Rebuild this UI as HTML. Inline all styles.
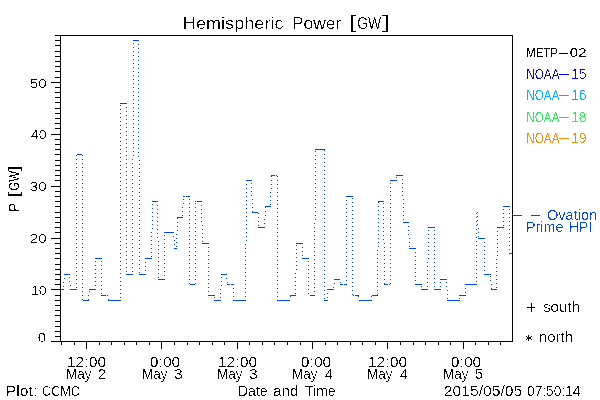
<!DOCTYPE html>
<html><head><meta charset="utf-8"><title>Hemispheric Power [GW]</title><style>
html,body{margin:0;padding:0;background:#fff;width:600px;height:400px;overflow:hidden}
svg{display:block}
text{font-family:"Liberation Sans",sans-serif}
</style></head><body>
<svg width="600" height="400" viewBox="0 0 600 400">
<defs><filter id="crisp" filterUnits="userSpaceOnUse" x="0" y="0" width="600" height="400"><feComponentTransfer><feFuncA type="discrete" tableValues="0 0 0 1 1"/></feComponentTransfer></filter><filter id="crisp2" filterUnits="userSpaceOnUse" x="0" y="0" width="600" height="400"><feComponentTransfer><feFuncA type="discrete" tableValues="0 1"/></feComponentTransfer></filter></defs>
<rect width="600" height="400" fill="#fff"/>
<g shape-rendering="crispEdges">
<path d="M62 289h1v1h-1zM63 282h1v1h-1zM63 286h1v1h-1zM64 274h1v1h-1zM64 278h1v1h-1zM68 274h1v1h-1zM69 277h1v1h-1zM69 281h1v1h-1zM70 285h1v1h-1zM70 289h1v1h-1zM74 289h1v1h-1zM76 155h1v1h-1zM76 159h1v1h-1zM76 163h1v1h-1zM76 167h1v1h-1zM76 171h1v1h-1zM76 175h1v1h-1zM76 179h1v1h-1zM76 183h1v1h-1zM76 187h1v1h-1zM76 191h1v1h-1zM76 195h1v1h-1zM76 199h1v1h-1zM76 203h1v1h-1zM76 207h1v1h-1zM76 211h1v1h-1zM76 215h1v1h-1zM76 219h1v1h-1zM76 223h1v1h-1zM76 227h1v1h-1zM76 231h1v1h-1zM76 235h1v1h-1zM76 239h1v1h-1zM76 243h1v1h-1zM76 247h1v1h-1zM76 251h1v1h-1zM76 255h1v1h-1zM76 259h1v1h-1zM76 263h1v1h-1zM76 267h1v1h-1zM76 271h1v1h-1zM76 275h1v1h-1zM76 279h1v1h-1zM76 283h1v1h-1zM76 287h1v1h-1zM79 154h1v1h-1zM82 155h1v1h-1zM82 159h1v1h-1zM82 163h1v1h-1zM82 167h1v1h-1zM82 171h1v1h-1zM82 175h1v1h-1zM82 179h1v1h-1zM82 183h1v1h-1zM82 187h1v1h-1zM82 191h1v1h-1zM82 195h1v1h-1zM82 199h1v1h-1zM82 203h1v1h-1zM82 207h1v1h-1zM82 211h1v1h-1zM82 215h1v1h-1zM82 219h1v1h-1zM82 223h1v1h-1zM82 227h1v1h-1zM82 231h1v1h-1zM82 235h1v1h-1zM82 239h1v1h-1zM82 243h1v1h-1zM82 247h1v1h-1zM82 251h1v1h-1zM82 255h1v1h-1zM82 259h1v1h-1zM82 263h1v1h-1zM82 267h1v1h-1zM82 271h1v1h-1zM82 275h1v1h-1zM82 279h1v1h-1zM82 283h1v1h-1zM82 287h1v1h-1zM82 291h1v1h-1zM82 295h1v1h-1zM82 299h1v1h-1zM85 300h1v1h-1zM88 295h1v1h-1zM88 299h1v1h-1zM89 291h1v1h-1zM91 289h1v1h-1zM95 261h1v1h-1zM95 265h1v1h-1zM95 269h1v1h-1zM95 273h1v1h-1zM95 277h1v1h-1zM95 281h1v1h-1zM95 285h1v1h-1zM95 289h1v1h-1zM96 258h1v1h-1zM100 258h1v1h-1zM101 261h1v1h-1zM101 265h1v1h-1zM101 269h1v1h-1zM101 273h1v1h-1zM101 277h1v1h-1zM101 281h1v1h-1zM101 285h1v1h-1zM101 289h1v1h-1zM101 293h1v1h-1zM103 295h1v1h-1zM107 295h1v1h-1zM108 299h1v1h-1zM111 300h1v1h-1zM115 300h1v1h-1zM119 300h1v1h-1zM120 105h1v1h-1zM120 109h1v1h-1zM120 113h1v1h-1zM120 117h1v1h-1zM120 121h1v1h-1zM120 125h1v1h-1zM120 129h1v1h-1zM120 133h1v1h-1zM120 137h1v1h-1zM120 141h1v1h-1zM120 145h1v1h-1zM120 149h1v1h-1zM120 153h1v1h-1zM120 157h1v1h-1zM120 161h1v1h-1zM120 165h1v1h-1zM120 169h1v1h-1zM120 173h1v1h-1zM120 177h1v1h-1zM120 181h1v1h-1zM120 185h1v1h-1zM120 189h1v1h-1zM120 193h1v1h-1zM120 197h1v1h-1zM120 201h1v1h-1zM120 205h1v1h-1zM120 209h1v1h-1zM120 213h1v1h-1zM120 217h1v1h-1zM120 221h1v1h-1zM120 225h1v1h-1zM120 229h1v1h-1zM120 233h1v1h-1zM120 237h1v1h-1zM120 241h1v1h-1zM120 245h1v1h-1zM120 249h1v1h-1zM120 253h1v1h-1zM120 257h1v1h-1zM120 261h1v1h-1zM120 265h1v1h-1zM120 269h1v1h-1zM120 273h1v1h-1zM120 277h1v1h-1zM120 281h1v1h-1zM120 285h1v1h-1zM120 289h1v1h-1zM120 293h1v1h-1zM120 297h1v1h-1zM122 103h1v1h-1zM126 103h1v1h-1zM126 107h1v1h-1zM126 111h1v1h-1zM126 115h1v1h-1zM126 119h1v1h-1zM126 123h1v1h-1zM126 127h1v1h-1zM126 131h1v1h-1zM126 135h1v1h-1zM126 139h1v1h-1zM126 143h1v1h-1zM126 147h1v1h-1zM126 151h1v1h-1zM126 155h1v1h-1zM126 159h1v1h-1zM126 163h1v1h-1zM126 167h1v1h-1zM126 171h1v1h-1zM126 175h1v1h-1zM126 179h1v1h-1zM126 183h1v1h-1zM126 187h1v1h-1zM126 191h1v1h-1zM126 195h1v1h-1zM126 199h1v1h-1zM126 203h1v1h-1zM126 207h1v1h-1zM126 211h1v1h-1zM126 215h1v1h-1zM126 219h1v1h-1zM126 223h1v1h-1zM126 227h1v1h-1zM126 231h1v1h-1zM126 235h1v1h-1zM126 239h1v1h-1zM126 243h1v1h-1zM126 247h1v1h-1zM126 251h1v1h-1zM126 255h1v1h-1zM126 259h1v1h-1zM126 263h1v1h-1zM126 267h1v1h-1zM126 271h1v1h-1zM127 274h1v1h-1zM131 274h1v1h-1zM132 159h1v1h-1zM132 163h1v1h-1zM132 167h1v1h-1zM132 171h1v1h-1zM132 175h1v1h-1zM132 179h1v1h-1zM132 183h1v1h-1zM132 187h1v1h-1zM132 191h1v1h-1zM132 195h1v1h-1zM132 199h1v1h-1zM132 203h1v1h-1zM132 207h1v1h-1zM132 211h1v1h-1zM132 215h1v1h-1zM132 219h1v1h-1zM132 223h1v1h-1zM132 227h1v1h-1zM132 231h1v1h-1zM132 235h1v1h-1zM132 239h1v1h-1zM132 243h1v1h-1zM132 247h1v1h-1zM132 251h1v1h-1zM132 255h1v1h-1zM132 259h1v1h-1zM132 263h1v1h-1zM132 267h1v1h-1zM132 271h1v1h-1zM133 43h1v1h-1zM133 47h1v1h-1zM133 51h1v1h-1zM133 55h1v1h-1zM133 59h1v1h-1zM133 63h1v1h-1zM133 67h1v1h-1zM133 71h1v1h-1zM133 75h1v1h-1zM133 79h1v1h-1zM133 83h1v1h-1zM133 87h1v1h-1zM133 91h1v1h-1zM133 95h1v1h-1zM133 99h1v1h-1zM133 103h1v1h-1zM133 107h1v1h-1zM133 111h1v1h-1zM133 115h1v1h-1zM133 119h1v1h-1zM133 123h1v1h-1zM133 127h1v1h-1zM133 131h1v1h-1zM133 135h1v1h-1zM133 139h1v1h-1zM133 143h1v1h-1zM133 147h1v1h-1zM133 151h1v1h-1zM133 155h1v1h-1zM134 40h1v1h-1zM138 40h1v1h-1zM138 44h1v1h-1zM138 48h1v1h-1zM138 52h1v1h-1zM138 56h1v1h-1zM138 60h1v1h-1zM138 64h1v1h-1zM138 68h1v1h-1zM138 72h1v1h-1zM138 76h1v1h-1zM138 80h1v1h-1zM138 84h1v1h-1zM138 88h1v1h-1zM138 92h1v1h-1zM138 96h1v1h-1zM138 100h1v1h-1zM138 104h1v1h-1zM138 108h1v1h-1zM138 112h1v1h-1zM138 116h1v1h-1zM138 120h1v1h-1zM138 124h1v1h-1zM138 128h1v1h-1zM138 132h1v1h-1zM138 136h1v1h-1zM138 140h1v1h-1zM138 144h1v1h-1zM138 148h1v1h-1zM138 152h1v1h-1zM138 156h1v1h-1zM139 160h1v1h-1zM139 164h1v1h-1zM139 168h1v1h-1zM139 172h1v1h-1zM139 176h1v1h-1zM139 180h1v1h-1zM139 184h1v1h-1zM139 188h1v1h-1zM139 192h1v1h-1zM139 196h1v1h-1zM139 200h1v1h-1zM139 204h1v1h-1zM139 208h1v1h-1zM139 212h1v1h-1zM139 216h1v1h-1zM139 220h1v1h-1zM139 224h1v1h-1zM139 228h1v1h-1zM139 232h1v1h-1zM139 236h1v1h-1zM139 240h1v1h-1zM139 244h1v1h-1zM139 248h1v1h-1zM139 252h1v1h-1zM139 256h1v1h-1zM139 260h1v1h-1zM139 264h1v1h-1zM139 268h1v1h-1zM139 272h1v1h-1zM141 274h1v1h-1zM145 258h1v1h-1zM145 262h1v1h-1zM145 266h1v1h-1zM145 270h1v1h-1zM145 274h1v1h-1zM149 258h1v1h-1zM151 232h1v1h-1zM151 236h1v1h-1zM151 240h1v1h-1zM151 244h1v1h-1zM151 248h1v1h-1zM151 252h1v1h-1zM151 256h1v1h-1zM152 204h1v1h-1zM152 208h1v1h-1zM152 212h1v1h-1zM152 216h1v1h-1zM152 220h1v1h-1zM152 224h1v1h-1zM152 228h1v1h-1zM153 201h1v1h-1zM157 201h1v1h-1zM157 205h1v1h-1zM157 209h1v1h-1zM157 213h1v1h-1zM157 217h1v1h-1zM157 221h1v1h-1zM157 225h1v1h-1zM157 229h1v1h-1zM157 233h1v1h-1zM157 237h1v1h-1zM158 241h1v1h-1zM158 245h1v1h-1zM158 249h1v1h-1zM158 253h1v1h-1zM158 257h1v1h-1zM158 261h1v1h-1zM158 265h1v1h-1zM158 269h1v1h-1zM158 273h1v1h-1zM158 277h1v1h-1zM160 279h1v1h-1zM164 235h1v1h-1zM164 239h1v1h-1zM164 243h1v1h-1zM164 247h1v1h-1zM164 251h1v1h-1zM164 255h1v1h-1zM164 259h1v1h-1zM164 263h1v1h-1zM164 267h1v1h-1zM164 271h1v1h-1zM164 275h1v1h-1zM164 279h1v1h-1zM165 232h1v1h-1zM169 232h1v1h-1zM173 232h1v1h-1zM173 236h1v1h-1zM174 240h1v1h-1zM174 244h1v1h-1zM174 248h1v1h-1zM176 234h1v1h-1zM176 238h1v1h-1zM176 242h1v1h-1zM176 246h1v1h-1zM177 218h1v1h-1zM177 222h1v1h-1zM177 226h1v1h-1zM177 230h1v1h-1zM180 217h1v1h-1zM182 207h1v1h-1zM182 211h1v1h-1zM182 215h1v1h-1zM183 199h1v1h-1zM183 203h1v1h-1zM184 196h1v1h-1zM188 196h1v1h-1zM189 199h1v1h-1zM189 203h1v1h-1zM189 207h1v1h-1zM189 211h1v1h-1zM189 215h1v1h-1zM189 219h1v1h-1zM189 223h1v1h-1zM189 227h1v1h-1zM189 231h1v1h-1zM189 235h1v1h-1zM189 239h1v1h-1zM189 243h1v1h-1zM189 247h1v1h-1zM189 251h1v1h-1zM189 255h1v1h-1zM189 259h1v1h-1zM189 263h1v1h-1zM189 267h1v1h-1zM189 271h1v1h-1zM189 275h1v1h-1zM189 279h1v1h-1zM189 283h1v1h-1zM192 284h1v1h-1zM195 201h1v1h-1zM195 203h1v1h-1zM195 207h1v1h-1zM195 211h1v1h-1zM195 215h1v1h-1zM195 219h1v1h-1zM195 223h1v1h-1zM195 227h1v1h-1zM195 231h1v1h-1zM195 235h1v1h-1zM195 239h1v1h-1zM195 243h1v1h-1zM195 247h1v1h-1zM195 251h1v1h-1zM195 255h1v1h-1zM195 259h1v1h-1zM195 263h1v1h-1zM195 267h1v1h-1zM195 271h1v1h-1zM195 275h1v1h-1zM195 279h1v1h-1zM195 283h1v1h-1zM197 201h1v1h-1zM201 201h1v1h-1zM201 205h1v1h-1zM201 209h1v1h-1zM201 213h1v1h-1zM201 217h1v1h-1zM201 221h1v1h-1zM202 225h1v1h-1zM202 229h1v1h-1zM202 233h1v1h-1zM202 237h1v1h-1zM202 241h1v1h-1zM204 243h1v1h-1zM208 243h1v1h-1zM208 247h1v1h-1zM208 251h1v1h-1zM208 255h1v1h-1zM208 259h1v1h-1zM208 263h1v1h-1zM208 267h1v1h-1zM208 271h1v1h-1zM208 275h1v1h-1zM208 279h1v1h-1zM208 283h1v1h-1zM208 287h1v1h-1zM208 291h1v1h-1zM208 295h1v1h-1zM212 295h1v1h-1zM214 297h1v1h-1zM215 300h1v1h-1zM219 300h1v1h-1zM220 289h1v1h-1zM220 293h1v1h-1zM220 297h1v1h-1zM221 277h1v1h-1zM221 281h1v1h-1zM221 285h1v1h-1zM222 274h1v1h-1zM226 274h1v1h-1zM226 278h1v1h-1zM227 282h1v1h-1zM229 284h1v1h-1zM233 284h1v1h-1zM233 288h1v1h-1zM233 292h1v1h-1zM233 296h1v1h-1zM233 300h1v1h-1zM237 300h1v1h-1zM241 300h1v1h-1zM245 244h1v1h-1zM245 248h1v1h-1zM245 252h1v1h-1zM245 256h1v1h-1zM245 260h1v1h-1zM245 264h1v1h-1zM245 268h1v1h-1zM245 272h1v1h-1zM245 276h1v1h-1zM245 280h1v1h-1zM245 284h1v1h-1zM245 288h1v1h-1zM245 292h1v1h-1zM245 296h1v1h-1zM245 300h1v1h-1zM246 180h1v1h-1zM246 184h1v1h-1zM246 188h1v1h-1zM246 192h1v1h-1zM246 196h1v1h-1zM246 200h1v1h-1zM246 204h1v1h-1zM246 208h1v1h-1zM246 212h1v1h-1zM246 216h1v1h-1zM246 220h1v1h-1zM246 224h1v1h-1zM246 228h1v1h-1zM246 232h1v1h-1zM246 236h1v1h-1zM246 240h1v1h-1zM250 180h1v1h-1zM251 183h1v1h-1zM251 187h1v1h-1zM251 191h1v1h-1zM251 195h1v1h-1zM252 199h1v1h-1zM252 203h1v1h-1zM252 207h1v1h-1zM252 211h1v1h-1zM255 212h1v1h-1zM258 213h1v1h-1zM258 217h1v1h-1zM258 221h1v1h-1zM258 225h1v1h-1zM260 227h1v1h-1zM264 219h1v1h-1zM264 223h1v1h-1zM264 227h1v1h-1zM265 207h1v1h-1zM265 211h1v1h-1zM265 215h1v1h-1zM268 206h1v1h-1zM270 192h1v1h-1zM270 196h1v1h-1zM270 200h1v1h-1zM270 204h1v1h-1zM271 176h1v1h-1zM271 180h1v1h-1zM271 184h1v1h-1zM271 188h1v1h-1zM274 175h1v1h-1zM276 175h1v1h-1zM277 176h1v1h-1zM277 180h1v1h-1zM277 184h1v1h-1zM277 188h1v1h-1zM277 192h1v1h-1zM277 196h1v1h-1zM277 200h1v1h-1zM277 204h1v1h-1zM277 208h1v1h-1zM277 212h1v1h-1zM277 216h1v1h-1zM277 220h1v1h-1zM277 224h1v1h-1zM277 228h1v1h-1zM277 232h1v1h-1zM277 236h1v1h-1zM277 240h1v1h-1zM277 244h1v1h-1zM277 248h1v1h-1zM277 252h1v1h-1zM277 256h1v1h-1zM277 260h1v1h-1zM277 264h1v1h-1zM277 268h1v1h-1zM277 272h1v1h-1zM277 276h1v1h-1zM277 280h1v1h-1zM277 284h1v1h-1zM277 288h1v1h-1zM277 292h1v1h-1zM277 296h1v1h-1zM277 300h1v1h-1zM281 300h1v1h-1zM285 300h1v1h-1zM289 300h1v1h-1zM290 296h1v1h-1zM293 295h1v1h-1zM295 273h1v1h-1zM295 277h1v1h-1zM295 281h1v1h-1zM295 285h1v1h-1zM295 289h1v1h-1zM295 293h1v1h-1zM296 245h1v1h-1zM296 249h1v1h-1zM296 253h1v1h-1zM296 257h1v1h-1zM296 261h1v1h-1zM296 265h1v1h-1zM296 269h1v1h-1zM298 243h1v1h-1zM302 243h1v1h-1zM302 247h1v1h-1zM302 251h1v1h-1zM302 255h1v1h-1zM303 258h1v1h-1zM307 258h1v1h-1zM308 261h1v1h-1zM308 265h1v1h-1zM308 269h1v1h-1zM308 273h1v1h-1zM308 277h1v1h-1zM308 281h1v1h-1zM308 285h1v1h-1zM308 289h1v1h-1zM308 293h1v1h-1zM310 295h1v1h-1zM314 223h1v1h-1zM314 227h1v1h-1zM314 231h1v1h-1zM314 235h1v1h-1zM314 239h1v1h-1zM314 243h1v1h-1zM314 247h1v1h-1zM314 251h1v1h-1zM314 255h1v1h-1zM314 259h1v1h-1zM314 263h1v1h-1zM314 267h1v1h-1zM314 271h1v1h-1zM314 275h1v1h-1zM314 279h1v1h-1zM314 283h1v1h-1zM314 287h1v1h-1zM314 291h1v1h-1zM314 295h1v1h-1zM315 151h1v1h-1zM315 155h1v1h-1zM315 159h1v1h-1zM315 163h1v1h-1zM315 167h1v1h-1zM315 171h1v1h-1zM315 175h1v1h-1zM315 179h1v1h-1zM315 183h1v1h-1zM315 187h1v1h-1zM315 191h1v1h-1zM315 195h1v1h-1zM315 199h1v1h-1zM315 203h1v1h-1zM315 207h1v1h-1zM315 211h1v1h-1zM315 215h1v1h-1zM315 219h1v1h-1zM317 149h1v1h-1zM321 149h1v1h-1zM324 150h1v1h-1zM324 154h1v1h-1zM324 158h1v1h-1zM324 162h1v1h-1zM324 166h1v1h-1zM324 170h1v1h-1zM324 174h1v1h-1zM324 178h1v1h-1zM324 182h1v1h-1zM324 186h1v1h-1zM324 190h1v1h-1zM324 194h1v1h-1zM324 198h1v1h-1zM324 202h1v1h-1zM324 206h1v1h-1zM324 210h1v1h-1zM324 214h1v1h-1zM324 218h1v1h-1zM324 222h1v1h-1zM324 226h1v1h-1zM324 230h1v1h-1zM324 234h1v1h-1zM324 238h1v1h-1zM324 242h1v1h-1zM324 246h1v1h-1zM324 250h1v1h-1zM324 254h1v1h-1zM324 258h1v1h-1zM324 262h1v1h-1zM324 266h1v1h-1zM324 270h1v1h-1zM324 274h1v1h-1zM324 278h1v1h-1zM324 282h1v1h-1zM324 286h1v1h-1zM324 290h1v1h-1zM324 294h1v1h-1zM324 298h1v1h-1zM326 300h1v1h-1zM327 289h1v1h-1zM327 293h1v1h-1zM327 297h1v1h-1zM331 289h1v1h-1zM333 287h1v1h-1zM334 279h1v1h-1zM334 283h1v1h-1zM338 279h1v1h-1zM340 282h1v1h-1zM342 284h1v1h-1zM346 196h1v1h-1zM346 200h1v1h-1zM346 204h1v1h-1zM346 208h1v1h-1zM346 212h1v1h-1zM346 216h1v1h-1zM346 220h1v1h-1zM346 224h1v1h-1zM346 228h1v1h-1zM346 232h1v1h-1zM346 236h1v1h-1zM346 240h1v1h-1zM346 244h1v1h-1zM346 248h1v1h-1zM346 252h1v1h-1zM346 256h1v1h-1zM346 260h1v1h-1zM346 264h1v1h-1zM346 268h1v1h-1zM346 272h1v1h-1zM346 276h1v1h-1zM346 280h1v1h-1zM346 284h1v1h-1zM350 196h1v1h-1zM352 198h1v1h-1zM352 202h1v1h-1zM352 206h1v1h-1zM352 210h1v1h-1zM352 214h1v1h-1zM352 218h1v1h-1zM352 222h1v1h-1zM352 226h1v1h-1zM352 230h1v1h-1zM352 234h1v1h-1zM352 238h1v1h-1zM352 242h1v1h-1zM352 246h1v1h-1zM352 250h1v1h-1zM352 254h1v1h-1zM352 258h1v1h-1zM352 262h1v1h-1zM352 266h1v1h-1zM352 270h1v1h-1zM352 274h1v1h-1zM352 278h1v1h-1zM352 282h1v1h-1zM352 286h1v1h-1zM352 290h1v1h-1zM352 294h1v1h-1zM353 295h1v1h-1zM355 295h1v1h-1zM358 296h1v1h-1zM359 300h1v1h-1zM363 300h1v1h-1zM367 300h1v1h-1zM371 296h1v1h-1zM371 300h1v1h-1zM375 295h1v1h-1zM377 250h1v1h-1zM377 254h1v1h-1zM377 258h1v1h-1zM377 262h1v1h-1zM377 266h1v1h-1zM377 270h1v1h-1zM377 274h1v1h-1zM377 278h1v1h-1zM377 282h1v1h-1zM377 286h1v1h-1zM377 290h1v1h-1zM377 294h1v1h-1zM378 202h1v1h-1zM378 206h1v1h-1zM378 210h1v1h-1zM378 214h1v1h-1zM378 218h1v1h-1zM378 222h1v1h-1zM378 226h1v1h-1zM378 230h1v1h-1zM378 234h1v1h-1zM378 238h1v1h-1zM378 242h1v1h-1zM378 246h1v1h-1zM381 201h1v1h-1zM383 203h1v1h-1zM383 207h1v1h-1zM383 211h1v1h-1zM383 215h1v1h-1zM383 219h1v1h-1zM383 223h1v1h-1zM383 227h1v1h-1zM383 231h1v1h-1zM383 235h1v1h-1zM383 239h1v1h-1zM384 243h1v1h-1zM384 247h1v1h-1zM384 251h1v1h-1zM384 255h1v1h-1zM384 259h1v1h-1zM384 263h1v1h-1zM384 267h1v1h-1zM384 271h1v1h-1zM384 275h1v1h-1zM384 279h1v1h-1zM384 283h1v1h-1zM387 284h1v1h-1zM389 284h1v1h-1zM390 183h1v1h-1zM390 187h1v1h-1zM390 191h1v1h-1zM390 195h1v1h-1zM390 199h1v1h-1zM390 203h1v1h-1zM390 207h1v1h-1zM390 211h1v1h-1zM390 215h1v1h-1zM390 219h1v1h-1zM390 223h1v1h-1zM390 227h1v1h-1zM390 231h1v1h-1zM390 235h1v1h-1zM390 239h1v1h-1zM390 243h1v1h-1zM390 247h1v1h-1zM390 251h1v1h-1zM390 255h1v1h-1zM390 259h1v1h-1zM390 263h1v1h-1zM390 267h1v1h-1zM390 271h1v1h-1zM390 275h1v1h-1zM390 279h1v1h-1zM390 283h1v1h-1zM391 180h1v1h-1zM395 180h1v1h-1zM396 177h1v1h-1zM398 175h1v1h-1zM402 175h1v1h-1zM402 179h1v1h-1zM402 183h1v1h-1zM402 187h1v1h-1zM402 191h1v1h-1zM402 195h1v1h-1zM403 199h1v1h-1zM403 203h1v1h-1zM403 207h1v1h-1zM403 211h1v1h-1zM403 215h1v1h-1zM403 219h1v1h-1zM404 222h1v1h-1zM408 222h1v1h-1zM408 226h1v1h-1zM408 230h1v1h-1zM408 234h1v1h-1zM409 238h1v1h-1zM409 242h1v1h-1zM409 246h1v1h-1zM411 248h1v1h-1zM415 248h1v1h-1zM415 252h1v1h-1zM415 256h1v1h-1zM415 260h1v1h-1zM415 264h1v1h-1zM415 268h1v1h-1zM415 272h1v1h-1zM415 276h1v1h-1zM415 280h1v1h-1zM415 284h1v1h-1zM419 284h1v1h-1zM421 286h1v1h-1zM422 289h1v1h-1zM426 289h1v1h-1zM427 262h1v1h-1zM427 266h1v1h-1zM427 270h1v1h-1zM427 274h1v1h-1zM427 278h1v1h-1zM427 282h1v1h-1zM427 286h1v1h-1zM428 230h1v1h-1zM428 234h1v1h-1zM428 238h1v1h-1zM428 242h1v1h-1zM428 246h1v1h-1zM428 250h1v1h-1zM428 254h1v1h-1zM428 258h1v1h-1zM429 227h1v1h-1zM433 227h1v1h-1zM434 230h1v1h-1zM434 234h1v1h-1zM434 238h1v1h-1zM434 242h1v1h-1zM434 246h1v1h-1zM434 250h1v1h-1zM434 254h1v1h-1zM434 258h1v1h-1zM434 262h1v1h-1zM434 266h1v1h-1zM434 270h1v1h-1zM434 274h1v1h-1zM434 278h1v1h-1zM434 282h1v1h-1zM434 286h1v1h-1zM435 289h1v1h-1zM439 289h1v1h-1zM440 282h1v1h-1zM440 286h1v1h-1zM441 279h1v1h-1zM445 279h1v1h-1zM446 282h1v1h-1zM446 286h1v1h-1zM447 290h1v1h-1zM447 294h1v1h-1zM447 298h1v1h-1zM449 300h1v1h-1zM453 300h1v1h-1zM457 300h1v1h-1zM459 298h1v1h-1zM460 295h1v1h-1zM464 295h1v1h-1zM465 284h1v1h-1zM465 288h1v1h-1zM465 292h1v1h-1zM469 284h1v1h-1zM473 284h1v1h-1zM476 213h1v1h-1zM476 217h1v1h-1zM476 221h1v1h-1zM476 225h1v1h-1zM476 229h1v1h-1zM476 233h1v1h-1zM476 237h1v1h-1zM476 241h1v1h-1zM476 245h1v1h-1zM476 249h1v1h-1zM476 253h1v1h-1zM476 257h1v1h-1zM476 261h1v1h-1zM476 265h1v1h-1zM476 269h1v1h-1zM476 273h1v1h-1zM476 277h1v1h-1zM476 281h1v1h-1zM477 212h1v1h-1zM477 216h1v1h-1zM477 220h1v1h-1zM477 224h1v1h-1zM478 228h1v1h-1zM478 232h1v1h-1zM478 236h1v1h-1zM480 238h1v1h-1zM484 238h1v1h-1zM484 242h1v1h-1zM484 246h1v1h-1zM484 250h1v1h-1zM484 254h1v1h-1zM484 258h1v1h-1zM484 262h1v1h-1zM484 266h1v1h-1zM484 270h1v1h-1zM484 274h1v1h-1zM488 274h1v1h-1zM490 276h1v1h-1zM490 280h1v1h-1zM491 284h1v1h-1zM491 288h1v1h-1zM494 289h1v1h-1zM496 259h1v1h-1zM496 263h1v1h-1zM496 267h1v1h-1zM496 271h1v1h-1zM496 275h1v1h-1zM496 279h1v1h-1zM496 283h1v1h-1zM496 287h1v1h-1zM497 227h1v1h-1zM497 231h1v1h-1zM497 235h1v1h-1zM497 239h1v1h-1zM497 243h1v1h-1zM497 247h1v1h-1zM497 251h1v1h-1zM497 255h1v1h-1zM501 227h1v1h-1zM503 209h1v1h-1zM503 213h1v1h-1zM503 217h1v1h-1zM503 221h1v1h-1zM503 225h1v1h-1zM504 206h1v1h-1zM508 206h1v1h-1zM509 209h1v1h-1zM509 213h1v1h-1zM509 217h1v1h-1zM509 221h1v1h-1zM509 225h1v1h-1zM509 229h1v1h-1zM509 233h1v1h-1zM509 237h1v1h-1zM509 241h1v1h-1zM509 245h1v1h-1zM509 249h1v1h-1zM509 253h1v1h-1z" fill="#0044ff"/>
<path d="M61 289h3v1h-3zM64 274h6v1h-6zM70 289h7v1h-7zM77 154h5v1h-5zM83 300h6v1h-6zM89 289h7v1h-7zM95 258h7v1h-7zM101 295h5v1h-5zM108 300h13v1h-13zM120 103h7v1h-7zM126 274h7v1h-7zM133 40h6v1h-6zM139 274h7v1h-7zM145 258h7v1h-7zM152 201h6v1h-6zM158 279h7v1h-7zM164 232h10v1h-10zM174 248h3v1h-3zM177 217h6v1h-6zM183 196h2v1h-2zM186 196h4v1h-4zM190 284h5v1h-5zM197 201h5v1h-5zM202 243h7v1h-7zM208 295h7v1h-7zM214 300h7v1h-7zM221 274h6v1h-6zM227 284h3v1h-3zM231 284h3v1h-3zM233 300h13v1h-13zM246 180h6v1h-6zM252 212h6v1h-6zM258 227h7v1h-7zM265 206h6v1h-6zM271 175h4v1h-4zM277 300h13v1h-13zM290 295h6v1h-6zM296 243h7v1h-7zM302 258h7v1h-7zM310 295h5v1h-5zM315 149h10v1h-10zM324 300h4v1h-4zM327 289h7v1h-7zM334 279h6v1h-6zM340 284h3v1h-3zM344 284h3v1h-3zM346 196h7v1h-7zM355 295h4v1h-4zM359 300h13v1h-13zM372 295h6v1h-6zM378 201h6v1h-6zM384 284h4v1h-4zM390 180h7v1h-7zM396 175h7v1h-7zM403 222h6v1h-6zM409 248h7v1h-7zM415 284h7v1h-7zM421 289h7v1h-7zM428 227h7v1h-7zM434 289h7v1h-7zM440 279h7v1h-7zM447 300h13v1h-13zM459 295h7v1h-7zM465 284h12v1h-12zM478 238h7v1h-7zM484 274h7v1h-7zM491 289h6v1h-6zM497 227h7v1h-7zM503 206h7v1h-7zM509 253h3v1h-3z" fill="#0044ff"/>
<path d="M60 35h453v1h-453zM60 341h453v1h-453zM60 35h1v307h-1zM512 35h1v307h-1zM51 341h9v1h-9zM55 336h5v1h-5zM55 331h5v1h-5zM55 326h5v1h-5zM55 321h5v1h-5zM55 315h5v1h-5zM55 310h5v1h-5zM55 305h5v1h-5zM55 300h5v1h-5zM55 295h5v1h-5zM51 289h9v1h-9zM55 284h5v1h-5zM55 279h5v1h-5zM55 274h5v1h-5zM55 269h5v1h-5zM55 264h5v1h-5zM55 258h5v1h-5zM55 253h5v1h-5zM55 248h5v1h-5zM55 243h5v1h-5zM51 238h9v1h-9zM55 232h5v1h-5zM55 227h5v1h-5zM55 222h5v1h-5zM55 217h5v1h-5zM55 212h5v1h-5zM55 206h5v1h-5zM55 201h5v1h-5zM55 196h5v1h-5zM55 191h5v1h-5zM51 186h9v1h-9zM55 180h5v1h-5zM55 175h5v1h-5zM55 170h5v1h-5zM55 165h5v1h-5zM55 160h5v1h-5zM55 154h5v1h-5zM55 149h5v1h-5zM55 144h5v1h-5zM55 139h5v1h-5zM51 134h9v1h-9zM55 128h5v1h-5zM55 123h5v1h-5zM55 118h5v1h-5zM55 113h5v1h-5zM55 108h5v1h-5zM55 102h5v1h-5zM55 97h5v1h-5zM55 92h5v1h-5zM55 87h5v1h-5zM51 82h9v1h-9zM55 77h5v1h-5zM55 71h5v1h-5zM55 66h5v1h-5zM55 61h5v1h-5zM55 56h5v1h-5zM55 51h5v1h-5zM55 45h5v1h-5zM55 40h5v1h-5zM55 35h5v1h-5zM61 342h1v3h-1zM74 342h1v3h-1zM86 342h1v7h-1zM99 342h1v3h-1zM111 342h1v3h-1zM124 342h1v3h-1zM136 342h1v3h-1zM149 342h1v3h-1zM161 342h1v7h-1zM174 342h1v3h-1zM187 342h1v3h-1zM199 342h1v3h-1zM212 342h1v3h-1zM224 342h1v3h-1zM237 342h1v7h-1zM249 342h1v3h-1zM262 342h1v3h-1zM274 342h1v3h-1zM287 342h1v3h-1zM300 342h1v3h-1zM312 342h1v7h-1zM325 342h1v3h-1zM337 342h1v3h-1zM350 342h1v3h-1zM362 342h1v3h-1zM375 342h1v3h-1zM387 342h1v7h-1zM400 342h1v3h-1zM413 342h1v3h-1zM425 342h1v3h-1zM438 342h1v3h-1zM450 342h1v3h-1zM463 342h1v7h-1zM475 342h1v3h-1zM488 342h1v3h-1zM500 342h1v3h-1z" fill="#000"/>
<path d="M513 215h9v1h-9zM531 215h9v1h-9z" fill="#0044ff"/><path d="M527 307h8v1h-8zM531 303h1v9h-1z" fill="#000"/><path d="M526 336h1v1h-1zM528 335h1v6h-1zM531 336h1v1h-1zM527 337h4v2h-4zM526 339h1v1h-1zM531 339h1v1h-1z" fill="#000"/>
</g>
<g filter="url(#crisp)"><text x="182.87" y="29" font-size="17" textLength="100.65" lengthAdjust="spacingAndGlyphs">Hemispheric</text><text x="291.96" y="29" font-size="17" textLength="49.24" lengthAdjust="spacingAndGlyphs">Power</text><text x="349.75" y="28" font-size="17.5" textLength="6.09" lengthAdjust="spacingAndGlyphs">[</text><text x="357.18" y="29" font-size="17" textLength="24.05" lengthAdjust="spacingAndGlyphs">GW</text><text x="382.0" y="28" font-size="17.5" textLength="8.12" lengthAdjust="spacingAndGlyphs">]</text></g>
<g filter="url(#crisp2)"><g transform="translate(19,211) rotate(-90)"><text x="-1.0" y="0" font-size="14" textLength="9.34" lengthAdjust="spacingAndGlyphs">P</text><text x="13.67" y="0" font-size="14" textLength="5.19" lengthAdjust="spacingAndGlyphs">[</text><text x="20.17" y="0" font-size="14" textLength="19.92" lengthAdjust="spacingAndGlyphs">GW</text><text x="40.0" y="0" font-size="14" textLength="5.19" lengthAdjust="spacingAndGlyphs">]</text></g></g>
<g filter="url(#crisp)"><text x="37.83" y="342" font-size="13" textLength="8.44" lengthAdjust="spacingAndGlyphs">0</text><text x="30.92" y="295" font-size="13" textLength="15.58" lengthAdjust="spacingAndGlyphs">10</text><text x="29.85" y="243" font-size="13" textLength="16.69" lengthAdjust="spacingAndGlyphs">20</text><text x="29.85" y="191" font-size="13" textLength="16.69" lengthAdjust="spacingAndGlyphs">30</text><text x="31.0" y="139" font-size="13" textLength="15.5" lengthAdjust="spacingAndGlyphs">40</text><text x="29.85" y="88" font-size="13" textLength="16.69" lengthAdjust="spacingAndGlyphs">50</text><text x="66.88" y="367" font-size="14" textLength="39.29" lengthAdjust="spacingAndGlyphs">12:00</text><text x="66.04" y="379" font-size="14" textLength="25.39" lengthAdjust="spacingAndGlyphs">May</text><text x="98.0" y="379" font-size="14" textLength="7.8" lengthAdjust="spacingAndGlyphs">2</text><text x="149.88" y="367" font-size="14" textLength="30.39" lengthAdjust="spacingAndGlyphs">0:00</text><text x="142.04" y="379" font-size="14" textLength="25.39" lengthAdjust="spacingAndGlyphs">May</text><text x="173.83" y="379" font-size="14" textLength="9.1" lengthAdjust="spacingAndGlyphs">3</text><text x="217.88" y="367" font-size="14" textLength="39.29" lengthAdjust="spacingAndGlyphs">12:00</text><text x="217.04" y="379" font-size="14" textLength="25.39" lengthAdjust="spacingAndGlyphs">May</text><text x="248.83" y="379" font-size="14" textLength="9.1" lengthAdjust="spacingAndGlyphs">3</text><text x="300.88" y="367" font-size="14" textLength="30.39" lengthAdjust="spacingAndGlyphs">0:00</text><text x="292.04" y="379" font-size="14" textLength="25.39" lengthAdjust="spacingAndGlyphs">May</text><text x="325.0" y="379" font-size="14" textLength="7.8" lengthAdjust="spacingAndGlyphs">4</text><text x="367.88" y="367" font-size="14" textLength="39.29" lengthAdjust="spacingAndGlyphs">12:00</text><text x="367.04" y="379" font-size="14" textLength="25.39" lengthAdjust="spacingAndGlyphs">May</text><text x="400.0" y="379" font-size="14" textLength="7.8" lengthAdjust="spacingAndGlyphs">4</text><text x="450.88" y="367" font-size="14" textLength="30.39" lengthAdjust="spacingAndGlyphs">0:00</text><text x="443.04" y="379" font-size="14" textLength="25.39" lengthAdjust="spacingAndGlyphs">May</text><text x="475.0" y="379" font-size="14" textLength="7.8" lengthAdjust="spacingAndGlyphs">5</text><text x="238.0" y="396" font-size="14" textLength="29.58" lengthAdjust="spacingAndGlyphs">Date</text><text x="272.9" y="396" font-size="14" textLength="25.58" lengthAdjust="spacingAndGlyphs">and</text><text x="305.0" y="396" font-size="14" textLength="30.59" lengthAdjust="spacingAndGlyphs">Time</text><text x="5.88" y="396" font-size="14" textLength="31.38" lengthAdjust="spacingAndGlyphs">Plot:</text><text x="42.1" y="396" font-size="14" textLength="37.8" lengthAdjust="spacingAndGlyphs">CCMC</text><text x="443.88" y="396" font-size="14" textLength="78.32" lengthAdjust="spacingAndGlyphs">2015/05/05</text><text x="527.02" y="396" font-size="14" textLength="53.47" lengthAdjust="spacingAndGlyphs">07:50:14</text></g>
<g filter="url(#crisp2)"><text x="526.12" y="57" font-size="13" textLength="31.88" lengthAdjust="spacingAndGlyphs">METP</text><text x="557.0" y="57" font-size="13" textLength="13.03" lengthAdjust="spacingAndGlyphs">-</text><text x="569.85" y="57" font-size="13" textLength="16.69" lengthAdjust="spacingAndGlyphs">02</text></g>
<g filter="url(#crisp)"><text x="526.16" y="79" font-size="14" fill="#0000ff" textLength="33.42" lengthAdjust="spacingAndGlyphs">NOAA</text><text x="557.0" y="79" font-size="14" fill="#0000ff" textLength="14.02" lengthAdjust="spacingAndGlyphs">-</text><text x="571.0" y="79" font-size="14" fill="#0000ff" textLength="15.58" lengthAdjust="spacingAndGlyphs">15</text><text x="526.16" y="100" font-size="14" fill="#00b4ff" textLength="33.42" lengthAdjust="spacingAndGlyphs">NOAA</text><text x="557.0" y="100" font-size="14" fill="#00b4ff" textLength="14.02" lengthAdjust="spacingAndGlyphs">-</text><text x="571.0" y="100" font-size="14" fill="#00b4ff" textLength="15.58" lengthAdjust="spacingAndGlyphs">16</text><text x="526.16" y="122" font-size="14" fill="#22ee55" textLength="33.42" lengthAdjust="spacingAndGlyphs">NOAA</text><text x="557.0" y="122" font-size="14" fill="#22ee55" textLength="14.02" lengthAdjust="spacingAndGlyphs">-</text><text x="571.0" y="122" font-size="14" fill="#22ee55" textLength="15.58" lengthAdjust="spacingAndGlyphs">18</text><text x="526.16" y="143" font-size="14" fill="#ff8800" textLength="33.42" lengthAdjust="spacingAndGlyphs">NOAA</text><text x="557.0" y="143" font-size="14" fill="#ff8800" textLength="14.02" lengthAdjust="spacingAndGlyphs">-</text><text x="571.0" y="143" font-size="14" fill="#ff8800" textLength="15.58" lengthAdjust="spacingAndGlyphs">19</text><text x="546.96" y="220" font-size="14" fill="#0044ff" textLength="50.35" lengthAdjust="spacingAndGlyphs">Ovation</text><text x="525.97" y="232" font-size="14" fill="#0044ff" textLength="37.61" lengthAdjust="spacingAndGlyphs">Prime</text><text x="569.0" y="232" font-size="14" fill="#0044ff" textLength="23.34" lengthAdjust="spacingAndGlyphs">HPI</text><text x="542.91" y="312" font-size="14" textLength="37.46" lengthAdjust="spacingAndGlyphs">south</text><text x="538.93" y="342" font-size="14" textLength="34.05" lengthAdjust="spacingAndGlyphs">north</text></g>
</svg>
</body></html>
